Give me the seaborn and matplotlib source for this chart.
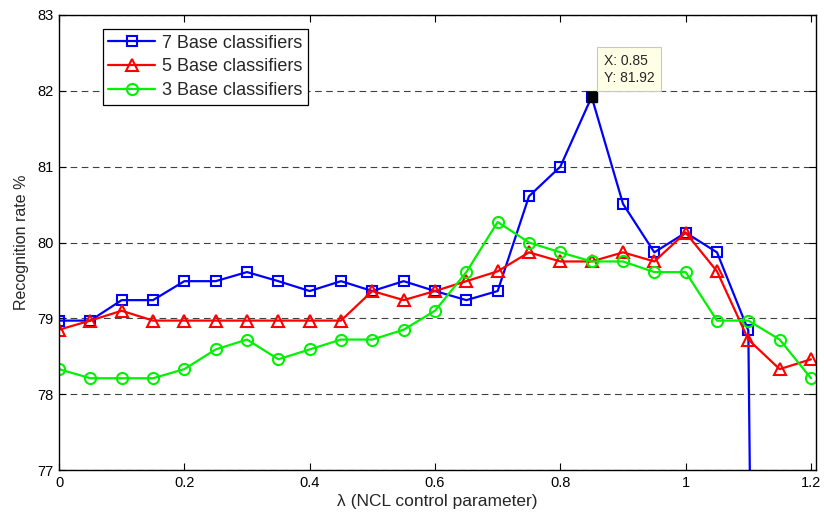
import numpy as np
import pandas as pd
import matplotlib
matplotlib.use("Agg")
import matplotlib.pyplot as plt
import seaborn as sns

# ---- data ----
lam = [0.00, 0.05, 0.10, 0.15, 0.20, 0.25, 0.30, 0.35, 0.40, 0.45, 0.50, 0.55, 0.60,
       0.65, 0.70, 0.75, 0.80, 0.85, 0.90, 0.95, 1.00, 1.05, 1.10, 1.15, 1.20]
base7 = [78.97, 78.97, 79.24, 79.24, 79.49, 79.49, 79.61, 79.49, 79.36, 79.49, 79.36, 79.49, 79.36,
         79.24, 79.36, 80.61, 81.00, 81.92, 80.51, 79.87, 80.13, 79.87, 78.84, 40.00, np.nan]
base5 = [78.85, 78.97, 79.10, 78.97, 78.97, 78.97, 78.97, 78.97, 78.97, 78.97, 79.36, 79.24, 79.36,
         79.49, 79.62, 79.87, 79.75, 79.75, 79.87, 79.75, 80.13, 79.62, 78.72, 78.33, 78.46]
base3 = [78.33, 78.21, 78.21, 78.21, 78.33, 78.59, 78.72, 78.46, 78.59, 78.72, 78.72, 78.85, 79.10,
         79.61, 80.27, 80.00, 79.87, 79.75, 79.75, 79.61, 79.61, 78.97, 78.97, 78.72, 78.21]
series_names = ["7 Base classifiers", "5 Base classifiers", "3 Base classifiers"]
xticks = [0, 0.2, 0.4, 0.6, 0.8, 1.0, 1.2]
xtick_labels = ["0", "0.2", "0.4", "0.6", "0.8", "1", "1.2"]
yticks = [77, 78, 79, 80, 81, 82, 83]
tip_x, tip_y = 0.85, 81.92

sns.set_style("ticks")
plt.rcParams["font.family"] = ["Liberation Sans", "DejaVu Sans"]

fig = plt.figure(figsize=(8.24, 5.19), dpi=100)
ax = fig.add_axes([59 / 824, 1 - 470 / 519, (816 - 59) / 824, (470 - 15) / 519])

styles = [("s", (0, 0, 1), 7.5), ("^", (1, 0, 0), 9.0), ("o", (0, 0.95, 0), 8.0)]
for vals, name, (mk, col, ms) in zip([base7, base5, base3], series_names, styles):
    df = pd.DataFrame({"lam": lam, "rate": vals}).dropna()
    sns.lineplot(data=df, x="lam", y="rate", ax=ax, color=col, marker=mk,
                 markersize=ms, markerfacecolor="none", markeredgecolor=col,
                 markeredgewidth=1.5, linewidth=1.6, label=name, sort=False,
                 estimator=None, errorbar=None)

ax.set_xlim(0, 1.208)
ax.set_ylim(77, 83)
ax.set_xticks(xticks)
ax.set_xticklabels(xtick_labels)
ax.set_yticks(yticks)
ax.yaxis.grid(True, color="#404040", linestyle=(0, (6, 4)), linewidth=0.8)
ax.xaxis.grid(False)
ax.set_axisbelow(True)
for s in ax.spines.values():
    s.set_visible(True)
    s.set_color("black")
    s.set_linewidth(1.0)
ax.tick_params(direction="in", length=5, width=0.8, top=True, right=True,
               labelsize=10.5, pad=4, colors="black")

ax.set_xlabel("λ (NCL control parameter)", fontsize=12.5, labelpad=3)
ax.set_ylabel("Recognition rate %", fontsize=11.5, labelpad=6)

leg = ax.legend(loc="upper left", bbox_to_anchor=(0.058, 0.969), borderaxespad=0,
                fontsize=13, frameon=True, fancybox=False, handlelength=2.6,
                labelspacing=0.38, borderpad=0.3, handletextpad=0.4)
leg.get_frame().set_edgecolor("black")
leg.get_frame().set_linewidth(0.9)
leg.get_frame().set_alpha(1)

# data tip
ax.plot([tip_x], [tip_y], marker="s", color="black", markersize=6.5, zorder=6)
ax.annotate(f"X: {tip_x:.2f}\nY: {tip_y:.2f}", xy=(tip_x, tip_y), xytext=(12, 12),
            textcoords="offset pixels", ha="left", va="bottom", fontsize=10,
            linespacing=1.3, zorder=7,
            bbox=dict(boxstyle="square,pad=0.45", facecolor="#ffffe6",
                      edgecolor="#c8c8c8", linewidth=0.8))

fig.savefig("out.png", dpi=100)
